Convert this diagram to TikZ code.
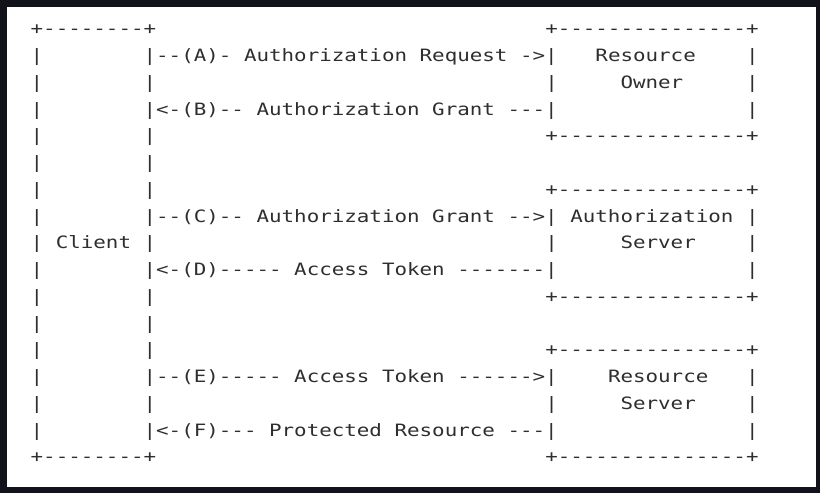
\documentclass[tikz,border=0pt]{standalone}
\usepackage{fontspec}
\usepackage{xcolor}
\usepackage{tikz}
\newfontfamily\asciifont[FakeStretch=1.226,WordSpace={1,0,0}]{DejaVu Sans Mono}
\definecolor{frame}{HTML}{12121A}
\definecolor{ink}{HTML}{2E2E2E}

\begin{document}
\begin{tikzpicture}[x=12.55pt, y=-26.75pt,
  t/.style={anchor=base west, inner sep=0pt, outer sep=0pt, text=ink,
            font={\asciifont\fontsize{17}{17}\selectfont}}]
% screenshot frame
\useasboundingbox (32.05pt,34.95pt) rectangle (852.05pt,-458.05pt);
\fill[frame] (32.05pt,34.95pt) rectangle (852.05pt,-458.05pt);
\fill[white] (39.05pt,27.95pt) rectangle (848.05pt,-452.05pt);
% client box
\node[t] (ctop) at (5,0) {+--------+};
\node[t] (cbot) at (5,16) {+--------+};
\foreach \r in {1,2,3,4,5,6,7,9,10,11,12,13,14,15}
  \node[t] (cl\r) at (5,\r) {|};
\foreach \r in {2,4,5,6,10,11,12,14}
  \node[t] (cr\r) at (14,\r) {|};
\node[t] (client) at (5,8) {| Client |};
% messages
\node[t] (msgA) at (14,1) {|--(A)- Authorization Request ->|};
\node[t] (msgB) at (14,3) {|<-(B)-- Authorization Grant ---|};
\node[t] (msgC) at (14,7) {|--(C)-- Authorization Grant -->|};
\node[t] (msgD) at (14,9) {|<-(D)----- Access Token -------|};
\node[t] (msgE) at (14,13) {|--(E)----- Access Token ------>|};
\node[t] (msgF) at (14,15) {|<-(F)--- Protected Resource ---|};
% right boxes
\foreach \r in {0,4,6,10,12,16}
  \node[t] (edge\r) at (46,\r) {+---------------+};
\foreach \r in {2,8,14}
  \node[t] (bl\r) at (46,\r) {|};
\foreach \r in {1,2,3,7,8,9,13,14,15}
  \node[t] (br\r) at (62,\r) {|};
\node[t] (owner1) at (50,1) {Resource};
\node[t] (owner2) at (52,2) {Owner};
\node[t] (auth1) at (48,7) {Authorization};
\node[t] (auth2) at (52,8) {Server};
\node[t] (res1) at (51,13) {Resource};
\node[t] (res2) at (52,14) {Server};
\end{tikzpicture}
\end{document}
